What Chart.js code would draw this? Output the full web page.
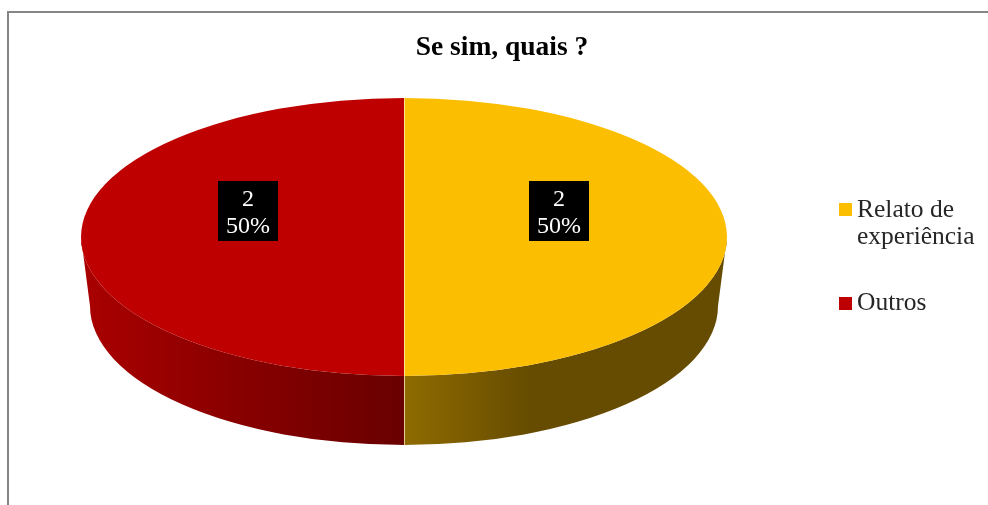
<!DOCTYPE html>
<html>
<head>
<meta charset="utf-8">
<style>
  html, body { margin: 0; padding: 0; background: #fff; }
  canvas { display: block; }
</style>
<script src="https://cdn.jsdelivr.net/npm/chart.js@4/dist/chart.umd.js"></script>
</head>
<body>
<canvas id="outputChart" width="988" height="505"></canvas>
<script>
const chartTitle = "Se sim, quais ?";
const categories = [["Relato de", "experiência"], "Outros"];
const seriesValues = [2, 2];
const sliceColors = ["#FCBE00", "#BE0000"];

// tilted look of the pie: the circle from Chart.js is squashed to this ellipse
const pieShape = { cx: 404, cy: 237, rx: 323, ry: 139, depth: 69, bottomRx: 314 };
const sideGradients = [
    [[404, "#8f6b00"], [530, "#664c00"], [727, "#664c00"]],
    [[90, "#a80000"], [230, "#8a0000"], [404, "#690000"]],
];

const fontFamily = "'Liberation Serif', 'Times New Roman', serif";

const framePlugin = {
    id: "frame",
    beforeDraw(chart) {
        const ctx = chart.ctx;
        ctx.save();
        ctx.strokeStyle = "#868686";
        ctx.lineWidth = 2;
        ctx.beginPath();
        ctx.moveTo(8, 505);
        ctx.lineTo(8, 12);
        ctx.lineTo(988, 12);
        ctx.stroke();
        ctx.restore();
    },
};

// the built-in legend has a fixed gap after the box, wider than the picture's
const legendPlugin = {
    id: "sideLegend",
    afterDraw(chart) {
        const ctx = chart.ctx;
        const boxTops = [203, 297];
        const textMiddles = [210, 303];
        ctx.save();
        ctx.font = "25.5px " + fontFamily;
        ctx.textBaseline = "middle";
        categories.forEach((label, i) => {
            ctx.fillStyle = sliceColors[i];
            ctx.fillRect(839, boxTops[i], 13, 13);
            ctx.fillStyle = "#262626";
            [].concat(label).forEach((line, j) => {
                ctx.fillText(line, 857, textMiddles[i] + j * 27);
            });
        });
        ctx.restore();
    },
};

const pie3dPlugin = {
    id: "pie3d",
    beforeDatasetsDraw(chart) {
        const ctx = chart.ctx;
        const p = pieShape;
        const arcs = chart.getDatasetMeta(0).data;

        // side wall, only the front half of the pie shows it
        arcs.forEach((arc, i) => {
            const a0 = Math.max(arc.startAngle, 0);
            const a1 = Math.min(arc.endAngle, Math.PI);
            if (a1 <= a0) return;
            const stops = sideGradients[i];
            const grad = ctx.createLinearGradient(stops[0][0], 0, stops[stops.length - 1][0], 0);
            const span = stops[stops.length - 1][0] - stops[0][0];
            stops.forEach((s) => grad.addColorStop((s[0] - stops[0][0]) / span, s[1]));
            ctx.save();
            ctx.fillStyle = grad;
            ctx.beginPath();
            ctx.ellipse(p.cx, p.cy, p.rx, p.ry, 0, a0, a1);
            ctx.ellipse(p.cx, p.cy + p.depth, p.bottomRx, p.ry, 0, a1, a0, true);
            ctx.closePath();
            ctx.fill();
            ctx.restore();
        });

        const first = arcs[0];
        ctx.save();
        ctx.translate(p.cx, p.cy);
        ctx.scale(p.rx / first.outerRadius, p.ry / first.outerRadius);
        ctx.translate(-first.x, -first.y);
    },
    afterDatasetsDraw(chart) {
        const ctx = chart.ctx;
        ctx.restore();
        const p = pieShape;
        const arcs = chart.getDatasetMeta(0).data;
        const total = seriesValues.reduce((a, b) => a + b, 0);

        // pale seam between the slices
        ctx.save();
        ctx.strokeStyle = "rgba(255, 236, 200, 0.75)";
        ctx.lineWidth = 1;
        arcs.forEach((arc) => {
            const rimX = p.cx + p.rx * Math.cos(arc.startAngle);
            const rimY = p.cy + p.ry * Math.sin(arc.startAngle);
            ctx.beginPath();
            ctx.moveTo(p.cx + 0.5, p.cy);
            ctx.lineTo(rimX + 0.5, rimY);
            if (Math.sin(arc.startAngle) > 0) ctx.lineTo(rimX + 0.5, rimY + p.depth);
            ctx.stroke();
        });
        ctx.restore();

        // value labels on black boxes
        arcs.forEach((arc, i) => {
            const mid = (arc.startAngle + arc.endAngle) / 2;
            const x = p.cx - 0.5 + 0.48 * p.rx * Math.cos(mid);
            const y = p.cy + 0.48 * p.ry * Math.sin(mid) - 26;
            ctx.save();
            ctx.fillStyle = "#000";
            ctx.fillRect(Math.round(x) - 30, Math.round(y) - 30, 60, 60);
            ctx.fillStyle = "#fff";
            ctx.font = "24px " + fontFamily;
            ctx.textAlign = "center";
            ctx.textBaseline = "middle";
            ctx.fillText(String(seriesValues[i]), Math.round(x), y - 11);
            ctx.fillText(Math.round((seriesValues[i] / total) * 100) + "%", Math.round(x), y + 16);
            ctx.restore();
        });
    },
};

const context = document.querySelector("#outputChart").getContext("2d");
const outputChart = new Chart(context, {
    type: "pie",
    data: {
        labels: categories,
        datasets: [
            {
                data: seriesValues,
                backgroundColor: sliceColors,
                borderWidth: 0,
            },
        ],
    },
    plugins: [framePlugin, legendPlugin, pie3dPlugin],
    options: {
        responsive: false,
        animation: false,
        layout: { padding: { left: 16, top: 31 } },
        plugins: {
            title: {
                display: true,
                text: chartTitle,
                color: "#000",
                font: { family: fontFamily, size: 27.5, weight: "bold" },
                padding: { top: 0, bottom: 10 },
            },
            legend: { display: false },
            tooltip: { enabled: false },
        },
    },
});
</script>
</body>
</html>
